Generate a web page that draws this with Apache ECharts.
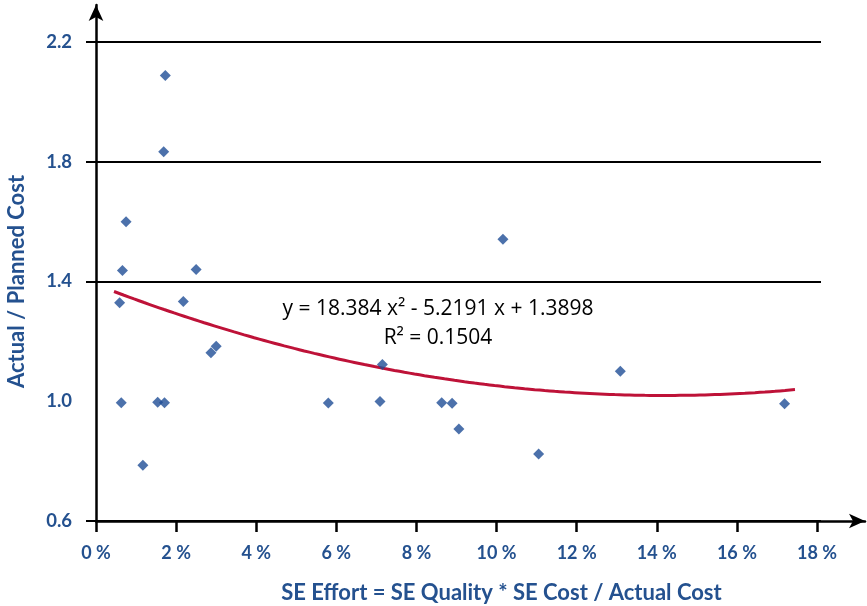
<!DOCTYPE html>
<html>
<head>
<meta charset="utf-8">
<script src="https://cdn.jsdelivr.net/npm/echarts@6/dist/echarts.min.js"></script>
<style>
    html, body { margin: 0; padding: 0; background: #fff; }
    #scatter_chart { width: 867px; height: 606px; }
</style>
</head>
<body>
<div id="scatter_chart"></div>
<script>
    // SE effort (%)
    const seEffort = [0.59, 0.66, 0.75, 0.63, 1.17, 1.54, 1.71, 1.73, 1.69, 2.18,
        2.50, 2.87, 3.00, 5.80, 7.09, 7.15, 8.63, 8.89, 9.06, 10.16, 11.05, 13.09, 17.19];
    // actual / planned cost
    const costRatio = [1.329, 1.437, 1.600, 0.995, 0.786, 0.997, 0.995, 2.088, 1.833, 1.333,
        1.440, 1.162, 1.184, 0.994, 0.999, 1.123, 0.995, 0.993, 0.907, 1.541, 0.824, 1.100, 0.992];
    // polynomial trendline printed on the chart: y = a x^2 + b x + c (x as fraction)
    const trendCoef = [18.384, -5.2191, 1.3898];
    const trendRange = [0.45, 17.45];
    const xTicks = [0, 2, 4, 6, 8, 10, 12, 14, 16, 18];
    const yTicks = [0.6, 1.0, 1.4, 1.8, 2.2];

    const blue = '#24518f';
    const chart = echarts.init(document.getElementById('scatter_chart'));

    const points = seEffort.map((x, i) => [x, costRatio[i]]);
    const trend = [];
    for (let x = trendRange[0]; x <= trendRange[1] + 1e-9; x += 0.25) {
        const f = x / 100;
        trend.push([x, trendCoef[0] * f * f + trendCoef[1] * f + trendCoef[2]]);
    }

    const option = {
        animation: false,
        textStyle: { fontFamily: 'Lato' },
        grid: [
            // data grid
            { left: 96, right: 50, top: 42, bottom: 85, containLabel: false, outerBoundsMode: 'none' },
            // arrows
            { left: 96, right: 2, top: 5, bottom: 85, containLabel: false, outerBoundsMode: 'none' },
            // gridlines (start left of the axis)
            { left: 86, right: 46, top: 42, bottom: 85, containLabel: false, outerBoundsMode: 'none' }
        ],
        xAxis: [
            {
                type: 'value', min: 0, max: 18, interval: 2,
                axisLine: { show: false },
                axisTick: { show: true, length: 11, lineStyle: { color: '#000', width: 2.5 } },
                axisLabel: {
                    margin: 23, color: blue, fontWeight: 'bold', fontSize: 18,
                    formatter: (v) => xTicks.indexOf(v) >= 0 ? v + ' %' : ''
                },
                splitLine: { show: false },
                name: 'SE Effort = SE Quality * SE Cost / Actual Cost',
                nameLocation: 'middle', nameGap: 61,
                nameTextStyle: { color: blue, fontWeight: 'bold', fontSize: 22, padding: [0, 0, 0, 90] }
            },
            {
                gridIndex: 1, type: 'value', min: 0, max: 10,
                axisLine: { show: true, symbol: ['none', 'arrow'], symbolSize: [11, 16], lineStyle: { color: '#000', width: 2.5 } },
                axisTick: { show: false }, axisLabel: { show: false }, splitLine: { show: false }
            },
            {
                gridIndex: 2, type: 'value', min: 0, max: 10, show: false
            }
        ],
        yAxis: [
            {
                type: 'value', min: 0.6, max: 2.2, interval: 0.4,
                axisLine: { show: false },
                axisTick: { show: false },
                axisLabel: {
                    margin: 24, color: blue, fontWeight: 'bold', fontSize: 18.5,
                    formatter: (v) => yTicks.some((t) => Math.abs(t - v) < 1e-6) ? v.toFixed(1) : ''
                },
                splitLine: { show: false },
                name: 'Actual / Planned Cost',
                nameLocation: 'middle', nameGap: 68, nameRotate: 90,
                nameTextStyle: { color: blue, fontWeight: 'bold', fontSize: 22 }
            },
            {
                gridIndex: 1, type: 'value', min: 0, max: 10,
                axisLine: { show: true, symbol: ['none', 'arrow'], symbolSize: [11, 16], lineStyle: { color: '#000', width: 2.5 } },
                axisTick: { show: false }, axisLabel: { show: false }, splitLine: { show: false }
            },
            {
                gridIndex: 2, type: 'value', min: 0.6, max: 2.2, interval: 0.4,
                axisLine: { show: false }, axisTick: { show: false }, axisLabel: { show: false },
                splitLine: {
                    show: true,
                    lineStyle: { color: ['#000', 'rgba(0,0,0,0)', '#000', '#000', '#000'], width: 2 }
                }
            }
        ],
        series: [
            {
                type: 'line',
                data: trend,
                smooth: true,
                showSymbol: false,
                lineStyle: { color: '#be1238', width: 3 },
                z: 3
            },
            {
                type: 'scatter',
                data: points,
                symbol: 'diamond',
                symbolSize: 11,
                itemStyle: { color: '#1f4e96' },
                z: 4
            }
        ],
        graphic: [
            {
                type: 'text',
                style: {
                    x: 438, y: 323.5,
                    text: 'y = 18.384 x² - 5.2191 x + 1.3898\nR² = 0.1504',
                    font: '21px "Open Sans"', fill: '#000',
                    align: 'center', verticalAlign: 'middle', lineHeight: 29
                }
            }
        ]
    };
    chart.setOption(option);
</script>
</body>
</html>
